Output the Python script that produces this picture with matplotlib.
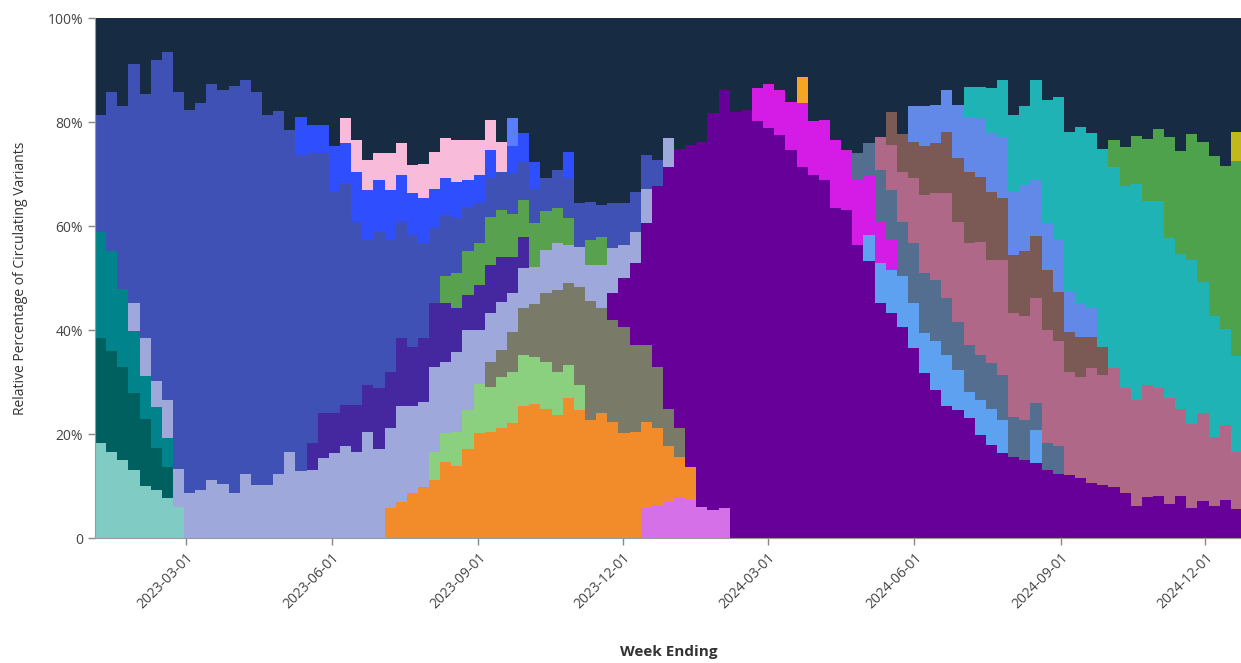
import numpy as np
import pandas as pd
import matplotlib
matplotlib.use("Agg")
import matplotlib.pyplot as plt

plt.rcParams['font.family'] = ['Open Sans', 'DejaVu Sans']

# weekly shares (%), week 0 = week starting 2023-01-03
n_weeks = 103
week_start = "2023-01-03"

violet = [5.7, 6.3, 7.0, 7.6, 7.3, 6.0, 5.4, 5.7]
mint = [18.3, 16.6, 15.0, 13.0, 10.0, 9.3, 7.6, 6.0]
dark_teal = [20.2, 19.3, 17.9, 14.9, 12.9, 8.0, 6.0]
teal = [20.3, 19.2, 14.9, 12.0, 8.3, 7.9, 5.7]
orange = [5.7, 7.0, 8.6, 9.9, 11.2, 14.7, 13.8, 17.2, 20.1, 20.4, 21.1, 22.1, 25.3, 25.8,
          24.9, 23.7, 26.9, 24.6, 22.7, 24.0, 22.4, 20.1, 20.4, 16.7, 14.8, 10.6, 8.0, 6.4]
light_green = [5.4, 5.4, 6.6, 7.4, 9.6, 8.7, 9.9, 9.9, 9.9, 9.1, 9.0, 8.3, 6.4, 4.8]
olive = [4.8, 5.2, 7.7, 9.0, 10.1, 13.2, 15.7, 15.7, 18.9, 22.8, 20.2, 19.5, 20.5, 16.7,
         14.7, 11.8, 7.3, 5.5]
purple = [5.2, 9.4, 15.7, 23.4, 34.7, 46.5, 53.8, 61.9, 70.2, 76.3, 80.5, 82.0, 82.3, 80.1,
          78.8, 77.5, 74.6, 71.4, 69.8, 68.8, 63.4, 63.1, 56.3, 53.3, 45.1, 43.2, 40.6, 36.5,
          31.7, 28.5, 25.3, 24.6, 23.0, 19.8, 17.9, 16.3, 15.6, 15.0, 14.4, 13.1, 12.4, 12.1,
          11.5, 10.5, 10.2, 9.9, 8.7, 6.2, 7.8, 8.1, 6.5, 8.1, 5.8, 7.1, 6.2, 7.4, 5.5]
lavender = [5.3, 7.3, 5.0, 7.3, 7.3, 8.6, 9.3, 11.2, 10.3, 8.6, 12.3, 10.1, 10.1, 12.4, 16.6,
            12.8, 13.1, 15.3, 16.3, 17.6, 16.6, 20.4, 17.2, 15.4, 18.3, 16.7, 16.3, 16.3, 13.8,
            15.4, 15.4, 10.3, 9.3, 9.2, 7.4, 7.7, 7.2, 8.3, 9.0, 7.3, 7.7, 7.0, 8.3, 8.6, 6.3,
            6.1, 6.7, 0, 5.5]
indigo = [5.1, 8.7, 7.7, 8.0, 9.0, 9.0, 11.6, 10.9, 13.1, 11.5, 12.2, 12.2, 11.2, 8.4, 6.7,
          8.7, 9.3, 8.7, 7.0, 6.0]
green = [5.2, 6.7, 8.4, 8.0, 9.3, 9.0, 8.3, 7.1, 8.3, 7.4, 6.7, 5.2, 0, 4.8, 5.4]
blue = [22.6, 30.6, 35.2, 46.0, 46.9, 61.8, 66.8, 72.4, 73.8, 74.4, 76.2, 75.9, 78.3, 75.7,
        75.6, 71.3, 69.8, 61.9, 60.9, 55.8, 50.0, 42.6, 42.6, 35.2, 27.9, 30.1, 25.3, 22.4,
        21.5, 18.3, 14.5, 11.8, 10.6, 8.6, 7.7, 7.4, 7.3, 7.7, 7.4, 6.7, 6.4, 7.4, 7.7, 8.4,
        7.4, 6.1, 8.7, 8.1, 7.7, 6.5, 5.1]
bright_blue = [7.3, 5.4, 5.4, 8.7, 7.7, 9.6, 9.6, 9.9, 9.6, 9.0, 8.0, 8.6, 7.6, 7.1, 7.0, 5.1,
               5.4, 5.4, 0, 5.2, 5.4, 5.2, 0, 0, 5.1]
pink = [4.8, 6.1, 5.8, 5.2, 7.1, 6.1, 5.4, 6.7, 7.1, 7.7, 8.0, 7.7, 6.7, 5.8, 5.8]
periwinkle = [5.4]
light_blue = [5.0, 7.7, 8.3, 9.7, 8.6, 7.7, 9.3, 9.9, 7.7, 5.1, 6.7, 7.0, 6.4, 0, 0, 6.4]
magenta = [6.4, 8.6, 8.7, 9.3, 12.2, 10.3, 11.6, 13.1, 11.5, 12.5, 11.5, 8.0, 5.8]
amber = [5.1]
slate = [5.2, 6.1, 10.0, 9.7, 10.5, 11.6, 11.5, 11.8, 10.9, 9.3, 9.0, 8.7, 8.7, 8.6, 7.7, 7.7,
         5.1, 5.1, 5.2]
mauve = [6.4, 8.6, 9.6, 12.5, 15.1, 16.7, 20.2, 19.2, 19.6, 21.8, 19.9, 22.2, 19.9, 19.9, 20.2,
         21.8, 20.2, 19.9, 19.5, 22.1, 21.1, 22.7, 20.1, 20.4, 21.7, 20.7, 20.4, 16.8, 16.2,
         16.9, 13.2, 14.3, 11.0]
brown = [6.4, 7.2, 7.0, 9.3, 9.6, 11.8, 12.2, 13.7, 12.5, 13.1, 11.8, 11.2, 12.5, 11.9, 11.5,
         9.6, 7.7, 7.7, 6.1, 5.5]
cornflower = [6.8, 7.7, 7.4, 8.1, 10.3, 10.6, 11.2, 11.2, 11.9, 12.2, 12.8, 10.8, 9.0, 9.9,
              7.7, 6.4, 5.5]
cyan = [5.8, 6.1, 8.7, 10.9, 14.7, 15.1, 19.3, 23.7, 27.5, 30.7, 34.0, 33.6, 38.1, 38.8, 38.9,
        41.4, 35.3, 36.0, 30.7, 29.8, 31.4, 25.2, 23.3, 18.5, 18.5]
green2 = [5.1, 7.4, 9.4, 11.9, 13.9, 19.5, 19.8, 24.3, 26.9, 30.8, 31.4, 37.5]
yellow = [5.5]

# stacking order, bottom to top: (values, first week, colour)
layers = [
    (violet, 49, "#d670e8"),
    (mint, 0, "#80cbc4"),
    (dark_teal, 0, "#00605f"),
    (teal, 0, "#00838a"),
    (orange, 26, "#f28c2a"),
    (light_green, 30, "#8bd07e"),
    (olive, 35, "#7a7a69"),
    (purple, 46, "#660099"),
    (lavender, 3, "#9fa8da"),
    (indigo, 19, "#4527a0"),
    (green, 31, "#57a14f"),
    (blue, 0, "#3f51b5"),
    (bright_blue, 18, "#2f4ffe"),
    (pink, 22, "#f8bbd9"),
    (periwinkle, 37, "#5a7cff"),
    (light_blue, 69, "#5ea1f0"),
    (magenta, 59, "#d41ce6"),
    (amber, 63, "#f7a623"),
    (slate, 68, "#546e8f"),
    (mauve, 70, "#b06888"),
    (brown, 71, "#7b5a56"),
    (cornflower, 73, "#6389e8"),
    (cyan, 78, "#20b3b6"),
    (green2, 91, "#4ea24b"),
    (yellow, 102, "#c2b81a"),
]

edges = pd.date_range(week_start, periods=n_weeks + 1, freq="7D")

tops = []
run = np.zeros(n_weeks)
for vals, start, col in layers:
    arr = np.zeros(n_weeks)
    arr[start:start + len(vals)] = vals
    run = run + arr
    tops.append(run.copy())

fig = plt.figure(figsize=(12.41, 6.63), dpi=100)
ax = fig.add_axes([95 / 1241, 125 / 663, 1147 / 1241, 520 / 663])
ax.set_facecolor("#172b43")

# draw from the top layer down so each lower layer covers the rest
for (vals, start, col), top in reversed(list(zip(layers, tops))):
    ax.fill_between(edges, 0, np.append(top, top[-1]), step="post",
                    color=col, linewidth=0)

ax.set_xlim(edges[0], edges[-1])
ax.set_ylim(0, 100)

ax.set_yticks([0, 20, 40, 60, 80, 100])
ax.set_yticklabels(["0", "20%", "40%", "60%", "80%", "100%"])

xt = pd.to_datetime(["2023-03-01", "2023-06-01", "2023-09-01", "2023-12-01",
                     "2024-03-01", "2024-06-01", "2024-09-01", "2024-12-01"])
ax.set_xticks(xt)
ax.set_xticklabels([d.strftime("%Y-%m-%d") for d in xt], rotation=45,
                   ha="right", rotation_mode="anchor")

ax.tick_params(axis="both", colors="#888888", labelcolor="#444444",
               labelsize=10, length=5, width=1)
for s in ["top", "right"]:
    ax.spines[s].set_visible(False)
for s in ["left", "bottom"]:
    ax.spines[s].set_color("#999999")

ax.set_xlabel("Week Ending", fontsize=11, fontweight="bold", color="#333333",
              labelpad=24)
ax.set_ylabel("Relative Percentage of Circulating Variants", fontsize=10,
              color="#333333", labelpad=14)

fig.savefig("out.png", dpi=100)
